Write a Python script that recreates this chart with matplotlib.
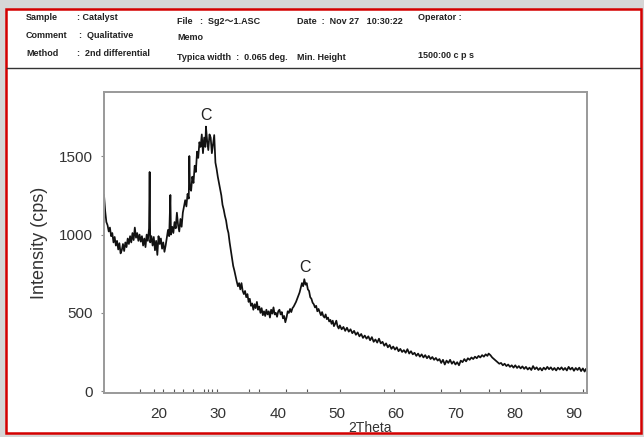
import matplotlib
matplotlib.use("Agg")
import matplotlib.pyplot as plt
from matplotlib.patches import Rectangle
from matplotlib.lines import Line2D

plt.rcParams['font.family'] = ['Liberation Sans', 'Noto Sans CJK JP', 'DejaVu Sans']

# ---- data: (2theta, intensity cps) ----
scan_points = [
    (10.7, 1253), (10.9, 1150), (11.1, 1080), (11.3, 1060), (11.5, 1020), (11.7, 1045), (11.9, 990),
    (12.1, 1010), (12.3, 950), (12.5, 985), (12.7, 930), (12.9, 960), (13.1, 905), (13.3, 945),
    (13.5, 880), (13.7, 900), (13.9, 940), (14.1, 895), (14.3, 950), (14.5, 920), (14.7, 975),
    (14.9, 940), (15.1, 990), (15.3, 950), (15.5, 1010), (15.7, 965), (15.9, 1045), (16.1, 980),
    (16.3, 1010), (16.5, 960), (16.7, 1000), (16.9, 955), (17.1, 990), (17.3, 930), (17.5, 975),
    (17.7, 920), (17.9, 1000), (18.1, 960), (18.3, 1040), (18.4, 1400), (18.5, 950), (18.7, 990),
    (18.9, 930), (19.1, 985), (19.3, 900), (19.5, 960), (19.7, 870), (19.9, 990), (20.1, 940),
    (20.3, 975), (20.5, 910), (20.7, 950), (20.9, 890), (21.1, 930), (21.3, 980), (21.5, 1030),
    (21.7, 990), (21.9, 1253), (22.0, 1000), (22.2, 1050), (22.4, 1010), (22.6, 1080), (22.8, 1040),
    (23.0, 1140), (23.2, 1060), (23.4, 1020), (23.6, 1100), (23.8, 1050), (24.0, 1140), (24.2, 1180),
    (24.4, 1220), (24.6, 1180), (24.8, 1260), (25.0, 1230), (25.1, 1502), (25.2, 1300), (25.4, 1280),
    (25.6, 1370), (25.8, 1330), (26.0, 1440), (26.2, 1400), (26.4, 1530), (26.6, 1490), (26.8, 1590),
    (27.0, 1560), (27.2, 1640), (27.4, 1520), (27.6, 1620), (27.8, 1560), (27.9, 1690), (28.1, 1600),
    (28.3, 1540), (28.5, 1640), (28.7, 1620), (28.9, 1520), (29.1, 1580), (29.3, 1636), (29.5, 1460),
    (29.7, 1420), (29.9, 1370), (30.1, 1330), (30.3, 1290), (30.5, 1250), (30.7, 1190), (30.9, 1160),
    (31.1, 1120), (31.3, 1090), (31.5, 1040), (31.7, 1010), (31.9, 950), (32.1, 900), (32.3, 850),
    (32.5, 800), (32.7, 770), (32.9, 735), (33.1, 700), (33.3, 670), (33.5, 690), (33.7, 650),
    (33.9, 690), (34.1, 640), (34.3, 620), (34.5, 640), (34.7, 600), (34.9, 620), (35.1, 570),
    (35.3, 590), (35.5, 545), (35.7, 560), (35.9, 520), (36.1, 555), (36.3, 530), (36.5, 570),
    (36.7, 520), (36.9, 540), (37.1, 500), (37.3, 530), (37.5, 485), (37.7, 510), (37.9, 480),
    (38.1, 520), (38.3, 490), (38.5, 510), (38.7, 470), (38.9, 520), (39.1, 495), (39.3, 535),
    (39.5, 490), (39.7, 500), (39.9, 475), (40.1, 510), (40.3, 520), (40.5, 490), (40.7, 505),
    (40.9, 465), (41.1, 480), (41.3, 440), (41.5, 470), (41.7, 510), (41.9, 500), (42.1, 525),
    (42.3, 505), (42.5, 530), (42.7, 540), (42.9, 555), (43.1, 570), (43.3, 590), (43.5, 610),
    (43.7, 630), (43.9, 660), (44.1, 690), (44.3, 670), (44.5, 715), (44.7, 680), (44.9, 690),
    (45.1, 650), (45.3, 640), (45.5, 600), (45.7, 590), (45.9, 565), (46.1, 555), (46.3, 535),
    (46.5, 545), (46.7, 510), (46.9, 525), (47.1, 505), (47.3, 485), (47.5, 505), (47.7, 480),
    (47.9, 470), (48.1, 490), (48.3, 460), (48.5, 470), (48.7, 445), (48.9, 455), (49.1, 430),
    (49.3, 450), (49.5, 415), (49.7, 430), (49.9, 450), (50.1, 415), (50.3, 400), (50.5, 420),
    (50.8, 395), (51.1, 410), (51.4, 385), (51.7, 405), (52.0, 380), (52.3, 395), (52.6, 370),
    (52.9, 385), (53.2, 360), (53.5, 375), (53.8, 350), (54.1, 365), (54.4, 340), (54.7, 355),
    (55.0, 335), (55.3, 350), (55.6, 325), (55.9, 345), (56.2, 315), (56.5, 330), (56.8, 310),
    (57.1, 335), (57.4, 305), (57.7, 315), (58.0, 290), (58.3, 305), (58.6, 280), (58.9, 295),
    (59.2, 270), (59.5, 285), (59.8, 265), (60.1, 280), (60.4, 255), (60.7, 270), (61.0, 250),
    (61.3, 262), (61.6, 245), (61.9, 268), (62.2, 240), (62.5, 255), (62.8, 235), (63.1, 245),
    (63.4, 225), (63.7, 240), (64.0, 220), (64.3, 235), (64.6, 215), (64.9, 230), (65.2, 210),
    (65.5, 225), (65.8, 205), (66.1, 218), (66.4, 200), (66.7, 212), (67.0, 195), (67.3, 205),
    (67.6, 180), (67.9, 200), (68.2, 170), (68.5, 195), (68.8, 180), (69.1, 200), (69.4, 175),
    (69.7, 190), (70.0, 170), (70.3, 185), (70.6, 165), (70.9, 195), (71.2, 185), (71.5, 205),
    (71.8, 190), (72.1, 210), (72.4, 200), (72.7, 215), (73.0, 205), (73.3, 220), (73.6, 210),
    (73.9, 225), (74.2, 215), (74.5, 230), (74.8, 220), (75.1, 235), (75.4, 225), (75.6, 240),
    (75.9, 230), (76.2, 215), (76.5, 205), (76.8, 195), (77.1, 185), (77.4, 175), (77.7, 180),
    (78.0, 165), (78.3, 175), (78.6, 160), (78.9, 170), (79.2, 155), (79.5, 165), (79.8, 150),
    (80.1, 165), (80.4, 148), (80.7, 160), (81.0, 145), (81.3, 158), (81.6, 142), (81.9, 155),
    (82.2, 138), (82.5, 150), (82.8, 135), (83.1, 160), (83.4, 140), (83.7, 152), (84.0, 135),
    (84.3, 148), (84.6, 132), (84.9, 150), (85.2, 138), (85.5, 155), (85.8, 140), (86.1, 152),
    (86.4, 135), (86.7, 148), (87.0, 132), (87.3, 150), (87.6, 138), (87.9, 152), (88.2, 135),
    (88.5, 148), (88.8, 132), (89.1, 155), (89.4, 138), (89.7, 150), (90.0, 130), (90.3, 148),
    (90.6, 135), (90.9, 150), (91.2, 128), (91.5, 145), (91.8, 125), (92.0, 140),
]
two_theta = [p[0] for p in scan_points]
intensity = [p[1] for p in scan_points]

peak_markers = [16.8, 19.2, 20.7, 22.5, 24.0, 25.7, 27.5, 28.2, 29.0, 29.7, 35.2, 36.8, 41.4, 45.0,
                50.5, 57.9, 59.7, 67.6, 70.8, 75.6, 77.5, 81.1, 84.2, 91.5]
x_ticks = [20, 30, 40, 50, 60, 70, 80, 90]
y_ticks = [0, 500, 1000, 1500]
peak_labels = [("C", 27.9, 1764), ("C", 44.6, 787)]

header = [
    ("Sample", 26, 18), (": Catalyst", 77, 18),
    ("File   :  Sg2\uff5e1.ASC", 177, 21), ("Date  :  Nov 27   10:30:22", 297, 21), ("Operator :", 418, 17),
    ("Comment", 26, 36), (":  Qualitative", 79, 36), ("Memo", 177, 38),
    ("Method", 26, 54), (":  2nd differential", 77, 54),
    ("Typica width  :  0.065 deg.", 177, 57), ("Min. Height", 297, 57), ("1500:00 c p s", 418, 55),
]

W, H = 644, 437
fig = plt.figure(figsize=(W / 100, H / 100), dpi=100)
fig.patch.set_facecolor('#d6d6d6')

# white page with red frame
fig.add_artist(Rectangle((6 / W, 1 - 433 / H), (641 - 6) / W, (433 - 9) / H,
                         transform=fig.transFigure, facecolor='white',
                         edgecolor='#d40000', linewidth=1.8, zorder=0))
fig.add_artist(Line2D([7 / W, 640 / W], [1 - 68 / H, 1 - 68 / H], transform=fig.transFigure,
                      color='#333333', linewidth=1.0))

for txt, x, y in header:
    fig.text(x / W, 1 - y / H, txt, fontsize=6.5, fontweight='bold', color='#222222',
             ha='left', va='center')

ax = fig.add_axes([104 / W, 1 - 393 / H, (587 - 104) / W, (393 - 92) / H])
ax.plot(two_theta, intensity, color='#111111', linewidth=1.25)
ax.set_xlim(10.7, 92.2)
ax.set_ylim(-12, 1911)

ax.set_xticks(x_ticks)
ax.set_xticklabels([str(t) for t in x_ticks])
ax.set_xticks(peak_markers, minor=True)
ax.set_yticks(y_ticks)
ax.set_yticklabels([str(t) for t in y_ticks])
ax.tick_params(axis='x', which='major', length=0, pad=10, labelsize=11, labelcolor='#333333')
ax.tick_params(axis='x', which='minor', direction='in', length=3, width=0.8, color='#555555')
ax.tick_params(axis='y', which='major', length=2, width=0.8, color='#888888', pad=6,
               labelsize=11, labelcolor='#333333')
for s in ax.spines.values():
    s.set_color('#999999')
    s.set_linewidth(1.4)

ax.set_ylabel('Intensity (cps)', fontsize=13, color='#333333', labelpad=8)
ax.set_xlabel('2Theta', fontsize=10, color='#333333')
ax.xaxis.set_label_coords((370 - 104) / 483, -(421 - 393) / 301)

for lab, x, y in peak_labels:
    ax.text(x, y, lab, fontsize=11.5, color='#222222', ha='center', va='center')

fig.savefig('out.png', dpi=100, facecolor=fig.get_facecolor())
